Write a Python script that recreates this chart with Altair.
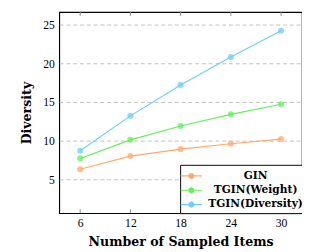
import altair as alt
import pandas as pd

x_vals = [6, 12, 18, 24, 30]
gin = [6.3, 8.0, 8.9, 9.6, 10.2]
tgin_weight = [7.7, 10.1, 11.9, 13.4, 14.7]
tgin_diversity = [8.7, 13.2, 17.2, 20.8, 24.2]
series_names = ["GIN", "TGIN(Weight)", "TGIN(Diversity)"]
colors = ["#FFAA6E", "#66EE5E", "#6CCFF6"]
y_ticks = [5, 10, 15, 20, 25]

rows = []
for name, vals in zip(series_names, [gin, tgin_weight, tgin_diversity]):
    for xv, yv in zip(x_vals, vals):
        rows.append({"x": xv, "y": yv, "series": name})
df = pd.DataFrame(rows)
ticks_df = pd.DataFrame({"x": x_vals})

FONT = "Liberation Serif"
BFONT = "DejaVu Serif"
W, H = 251, 208
xscale = alt.Scale(domain=[3.5, 32.5], nice=False, zero=False)
yscale = alt.Scale(domain=[0.625, 26.625], nice=False, zero=False)

sym = "M-1.47,0L1.47,0M-0.33,0A0.33,0.33,0,1,0,0.33,0A0.33,0.33,0,1,0,-0.33,0Z"

color = alt.Color(
    "series:N",
    scale=alt.Scale(domain=series_names, range=colors),
    legend=alt.Legend(
        title=None,
        orient="none",
        legendX=125,
        legendY=158,
        symbolType=sym,
        symbolSize=225,
        symbolStrokeWidth=1.2,
        labelFont=BFONT,
        labelFontWeight="bold",
        labelFontSize=11,
        labelAlign="center",
        labelOffset=58,
        labelColor="black",
        rowPadding=0.8,
        padding=3,
        strokeColor="black",
        fillColor="white",
        cornerRadius=0,
        labelLimit=200,
    ),
)

base = alt.Chart(df)
lines = base.mark_line(strokeWidth=1.2).encode(
    x=alt.X(
        "x:Q",
        scale=xscale,
        axis=alt.Axis(
            values=x_vals,
            title="Number of Sampled Items",
            grid=False,
            ticks=False,
            domain=False,
            labelPadding=5,
            titlePadding=7,
        ),
    ),
    y=alt.Y(
        "y:Q",
        scale=yscale,
        axis=alt.Axis(
            values=y_ticks,
            title="Diversity",
            grid=True,
            gridDash=[4, 3],
            gridColor="#C0C0C0",
            ticks=False,
            domain=False,
            labelPadding=5,
            titlePadding=10,
        ),
    ),
    color=color,
)
points = base.mark_circle(size=40, opacity=0.75).encode(
    x=alt.X("x:Q", scale=xscale),
    y=alt.Y("y:Q", scale=yscale),
    color=alt.Color("series:N", scale=alt.Scale(domain=series_names, range=colors), legend=None),
)
tick_top = alt.Chart(ticks_df).mark_rule(color="#888888", strokeWidth=1).encode(
    x=alt.X("x:Q", scale=xscale), y=alt.value(0), y2=alt.value(4)
)
tick_bot = alt.Chart(ticks_df).mark_rule(color="#888888", strokeWidth=1).encode(
    x=alt.X("x:Q", scale=xscale), y=alt.value(H - 4), y2=alt.value(H)
)

chart = (
    alt.layer(tick_top, tick_bot, lines, points)
    .properties(
        width=W,
        height=H,
        autosize=alt.AutoSizeParams(type="none"),
        padding={"left": 53, "top": 0, "right": 0, "bottom": 36},
    )
    .configure_view(stroke="black", strokeWidth=1.2)
    .configure_axis(
        labelFont=FONT,
        titleFont=BFONT,
        labelFontSize=12,
        titleFontSize=13,
        titleFontWeight="bold",
        labelColor="black",
        titleColor="black",
    )
)

chart.save("out.html", embed_options={"renderer": "svg", "actions": False})
